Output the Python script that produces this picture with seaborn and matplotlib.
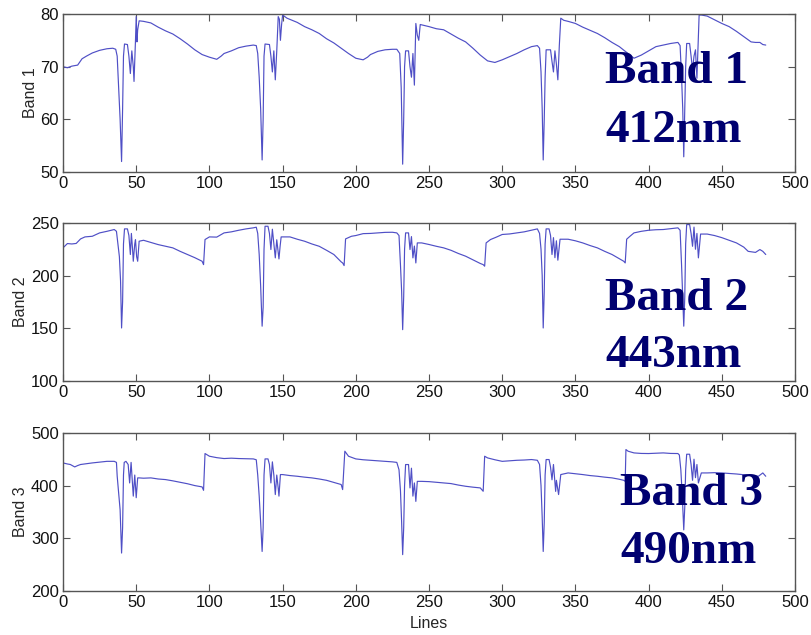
import numpy as np
import pandas as pd
import matplotlib
matplotlib.use("Agg")
import matplotlib.pyplot as plt
import seaborn as sns

# ---------------- data ----------------
band1_x = [0, 3, 6, 10, 13, 16, 20, 25, 30, 34, 36, 37, 38, 39, 40, 40.7, 41.3, 42, 44, 45, 46, 47, 48, 48.5, 49.5, 50, 50.5, 51, 52,
           55, 60, 65, 70, 75, 80, 85, 90, 95, 100, 105, 108, 110, 115, 120, 125, 130, 132, 133, 134, 135, 136, 136.7, 137.3,
           138, 141, 142, 143, 144, 145, 146, 147, 147.8, 148.5, 149.3, 150, 153, 160, 165, 170, 175, 180, 185, 190, 195,
           200, 205, 208, 210, 215, 220, 225, 228, 230, 231, 232, 232.7, 233.3, 234, 236, 237, 238, 239, 240, 241, 242, 243,
           244, 247, 250, 255, 260, 265, 270, 275, 280, 285, 290, 295, 300, 305, 310, 315, 320, 324, 325.5, 326.5, 327.3,
           328, 328.7, 329.3, 330, 333, 334, 335, 336, 337, 338, 339, 340, 342, 345, 350, 355, 360, 365, 370, 375, 380, 385,
           390, 395, 400, 405, 410, 415, 420, 421.5, 422.5, 423.3, 424, 424.7, 425.3, 426, 428, 429, 430, 431, 432, 433, 434,
           434.5, 436, 440, 445, 450, 455, 460, 465, 470, 473, 476, 478, 480]
band1_y = [70.0, 69.8, 70.1, 70.3, 71.5, 72.0, 72.6, 73.1, 73.4, 73.5, 73.3, 72.0, 66, 60, 52, 62, 72, 74.3, 74.2, 72, 68.7, 73, 70,
           67.2, 75, 79.5, 74.7, 77, 78.7,
           78.6, 78.3, 77.5, 76.8, 76.2, 75.3, 74.3, 73.2, 72.3, 71.8, 71.4, 72.0, 72.5, 73.0, 73.6, 73.9, 74.1, 74.0, 72.5, 68,
           62, 52.3, 60, 72,
           74.3, 74.2, 72, 69.0, 73, 67.5, 73, 79.5, 79, 75, 78, 79.8, 79.2, 78.4, 77.6, 77.0, 76.3, 75.3, 74.5, 73.5, 72.5,
           71.6, 71.3, 71.8, 72.3, 72.9, 73.2, 73.3, 73.3, 72.5, 66, 51.5, 60, 70, 73, 73, 70, 68, 72.5, 66.5, 78.2, 76, 75,
           78.0, 77.8, 77.6, 77.2, 77.0, 76.2, 75.4, 74.7, 73.5, 72.2, 71.1, 70.8, 71.3, 71.9, 72.5, 73.2, 73.8, 74.0, 73.5,
           69, 62,
           52.3, 60, 68, 73.2, 73.2, 71, 69, 73, 70.5, 67.5, 74, 79.2, 78.8, 78.6, 78.2, 77.5, 76.9, 76.3, 75.5, 74.6, 73.8,
           72.7,
           71.6, 72.2, 73.0, 73.8, 74.1, 74.4, 74.6, 74, 68, 62, 52.9, 62, 70, 74.4, 74.4, 72, 69.4, 72, 73.2, 67.8, 76,
           79.8, 79.8, 79.6, 78.9, 78.2, 77.6, 76.7, 75.7, 74.7, 74.6, 74.6, 74.2, 74.1]

band2_x = [0, 3, 6, 9, 12, 15, 20, 25, 30, 35, 36.5, 37.5, 38.5, 39.3, 40, 40.7, 41.3, 42, 44, 45, 46, 46.7, 47.5, 48, 49, 49.5,
           50.3, 51, 52, 55, 60, 65, 70, 75, 80, 85, 90, 95, 96, 97, 100, 105, 110, 115, 120, 125, 130, 132, 133, 134, 135,
           136, 136.7, 137.3, 138, 140, 141, 142, 143, 144, 145, 146, 147, 147.5, 148.3, 149, 155, 160, 165, 170, 175, 180,
           185, 190, 191, 192, 193, 197, 200, 205, 210, 215, 220, 225, 228, 229.5, 230.5, 231.3, 232, 232.7, 233.3, 234,
           236, 237, 238, 239, 240, 241, 242, 245, 250, 255, 260, 265, 270, 275, 280, 285, 287, 288, 289, 292, 296, 300,
           305, 310, 315, 320, 324, 325.5, 326.5, 327.3, 328, 328.7, 329.3, 330, 332, 333, 334, 335, 336, 337, 338, 339.5,
           345, 350, 355, 360, 365, 370, 375, 380, 383, 384, 385, 387, 390, 395, 400, 405, 410, 415, 420, 421.5, 422.5,
           423.3, 424, 424.7, 425.3, 426, 428, 429, 430, 431, 432, 433, 434, 435.5, 440, 445, 450, 455, 460, 465, 468, 473,
           476, 478, 480]
band2_y = [226.3, 230.4, 230.0, 230.5, 234.8, 236.7, 237.3, 240.5, 242, 243.7, 242, 230, 218, 195, 150.3, 175, 230, 244.3, 244.3,
           238, 220, 240, 225, 213.6, 230, 234,
           218, 213.6, 232.6, 233.5, 231.5, 229.4, 227.8, 226.3, 223, 220, 217, 213.6, 210.4, 234.2, 236.7, 236.5, 240.5,
           241.5, 243, 244.3, 245.3, 245.9, 240, 220, 190,
           152, 170, 225, 246.8, 246.8, 240, 224.7, 244, 230, 216.8, 234, 222, 215.8, 228, 236.7, 236.7, 234.5, 232.6, 230,
           227.8, 224,
           220, 213, 212, 209.5, 234.8, 237.3, 238, 239.8, 240, 240.5, 241, 241.1, 240.5, 238, 210, 185, 148.7, 180, 225,
           240.5,
           240.5, 224.7, 237, 216.8, 228, 212, 231, 231, 229.5, 227.8, 226.3, 224, 221, 218.4, 215, 211.5, 210.4, 208.9,
           231, 234.2, 236.5, 239,
           239.5, 240.5, 241.5, 243, 244.3, 240, 225, 200, 150.3, 185, 230, 244.3, 244.3, 238, 220, 236, 217, 233, 214.6,
           234.5,
           234.5, 233, 231, 228.5, 226.3, 223, 220, 216, 213.6, 212, 234.5, 237, 240.5, 242, 243, 243.5, 243.7, 244.5, 245.3,
           243, 210,
           180, 152, 180, 230, 248.4, 248.4, 240, 227.8, 246, 225, 240, 216.8, 239.4, 239.4, 238, 236, 233.5, 231, 227, 223,
           222,
           224.7, 223, 220]

band3_x = [0, 3, 5, 8, 10, 12, 16, 20, 25, 30, 35, 36.5, 37, 38, 39, 40, 40.7, 41.3, 41.8, 43, 44.5, 45.5, 46.5, 47.3, 48, 49,
           49.5, 50, 51, 52, 55, 60, 65, 70, 75, 80, 85, 90, 95, 96, 97, 100, 105, 110, 115, 120, 125, 130, 132, 133, 134,
           135, 136, 136.7, 137.3, 138, 140, 141, 142, 143, 144, 145, 146, 147, 147.5, 148.5, 150, 155, 160, 165, 170, 175,
           180, 185, 190, 191, 192.5, 195, 200, 205, 210, 215, 220, 225, 228, 229.5, 230.5, 231.3, 232, 232.7, 233.3, 234,
           236, 237, 238, 239, 240, 241, 242, 245, 250, 255, 260, 265, 270, 275, 280, 285, 287, 288, 290, 295, 300, 305,
           310, 315, 320, 324, 325.5, 326.5, 327.3, 328, 328.7, 329.3, 330, 332, 333, 334, 335, 336.5, 337, 338.5, 340, 345,
           350, 355, 360, 365, 370, 375, 380, 383, 384, 384.5, 386, 390, 395, 400, 405, 410, 415, 420, 421, 422, 423, 424,
           424.7, 425.3, 426, 428, 429, 430, 431, 432, 433, 434, 436, 440, 445, 450, 455, 460, 465, 470, 475, 478, 480]
band3_y = [443, 441, 440, 435.4, 438, 440, 441.5, 443, 444.5, 446, 446, 444, 418, 386, 354, 272, 320, 420, 444, 446, 440, 405,
           444, 410, 380, 420,
           400, 377, 414.6, 414.6, 414, 414.6, 412.5, 411.4, 409, 406.3, 403.5, 400, 397.5, 391, 460.8, 455.7, 453, 451.3,
           452, 451.3, 451, 450.6, 449, 420, 380,
           330, 275, 320, 420, 450.6, 450.6, 440, 405, 445, 420, 383, 420, 395, 380, 420.9, 420.9, 419, 417.7, 416, 414.6,
           412.5,
           410, 406, 402, 392.4, 465.2, 455.7, 450.6, 449, 448, 447, 446, 445, 444, 430, 390, 330, 269, 320, 400, 439.9,
           439.9, 395.6, 433, 380, 405, 370, 408, 408, 407.5, 406.3, 405, 403.8, 401, 398.7, 397, 395.6, 389.2, 455.7, 452.5,
           449, 446, 447,
           448, 448.5, 449.4, 448, 440, 400, 340, 275, 330, 420, 449.4, 449.4, 435, 411, 440, 389, 410, 383, 420.9, 424,
           422.5, 420.9, 419, 417.7, 416, 414.6, 412, 410, 408, 468.4, 465.2, 462, 461, 460.8, 461.5, 462, 461, 460.8, 458,
           430, 380, 316,
           360, 430, 459.5, 459.5, 440, 410, 450, 415, 440, 405, 424, 424, 424.5, 424, 423, 422, 420.5, 419, 417.7, 424,
           417.7]

band_labels = ["Band 1", "Band 2", "Band 3"]
band_titles = [("Band 1", "412nm"), ("Band 2", "443nm"), ("Band 3", "490nm")]
y_limits = [(50, 80), (100, 250), (200, 500)]
y_ticks = [[50, 60, 70, 80], [100, 150, 200, 250], [200, 300, 400, 500]]
x_ticks = [0, 50, 100, 150, 200, 250, 300, 350, 400, 450, 500]
x_label = "Lines"

# ---------------- style ----------------
sns.set_theme(style="ticks")
plt.rcParams["font.family"] = ["Liberation Sans", "DejaVu Sans"]
plt.rcParams.update({
    "xtick.direction": "in", "ytick.direction": "in",
    "xtick.top": True, "ytick.right": True,
    "xtick.major.size": 5, "ytick.major.size": 5,
    "xtick.major.width": 0.8, "ytick.major.width": 0.8,
    "axes.edgecolor": "#555555", "axes.linewidth": 1.0,
    "xtick.color": "#555555", "ytick.color": "#555555",
    "xtick.labelcolor": "#111111", "ytick.labelcolor": "#111111",
    "xtick.labelsize": 12, "ytick.labelsize": 12,
    "axes.labelsize": 11.5,
})

fig = plt.figure(figsize=(8.11, 6.35), dpi=100)
positions = [
    [0.0777, 0.729, 0.9026, 0.249],
    [0.0777, 0.400, 0.9026, 0.249],
    [0.0777, 0.0693, 0.9026, 0.249],
]

line_color = "#4f4fc6"
text_color = "#000070"
datasets = [(band1_x, band1_y), (band2_x, band2_y), (band3_x, band3_y)]
text_pos = [(0.746, 0.869, 0.776), (0.746, 0.512, 0.422), (0.7645, 0.205, 0.113)]

for i, (xs, ys) in enumerate(datasets):
    ax = fig.add_axes(positions[i])
    df = pd.DataFrame({"line": xs, "value": ys})
    sns.lineplot(data=df, x="line", y="value", ax=ax, sort=False, estimator=None,
                 color=line_color, linewidth=0.85)
    ax.set_xlim(0, 500)
    ax.set_ylim(*y_limits[i])
    ax.set_xticks(x_ticks)
    ax.set_yticks(y_ticks[i])
    ax.set_ylabel(band_labels[i], labelpad=2)
    ax.set_xlabel(x_label if i == 2 else "", labelpad=4)
    ax.tick_params(axis="both", pad=3)

for (t1, t2), (tx, ty1, ty2) in zip(band_titles, text_pos):
    fig.text(tx, ty1, t1, family=["Liberation Serif"], fontweight="bold", fontsize=34,
             color=text_color, ha="left", va="baseline")
    fig.text(tx, ty2, t2, family=["Liberation Serif"], fontweight="bold", fontsize=34,
             color=text_color, ha="left", va="baseline")

fig.savefig("out.png", dpi=100)
